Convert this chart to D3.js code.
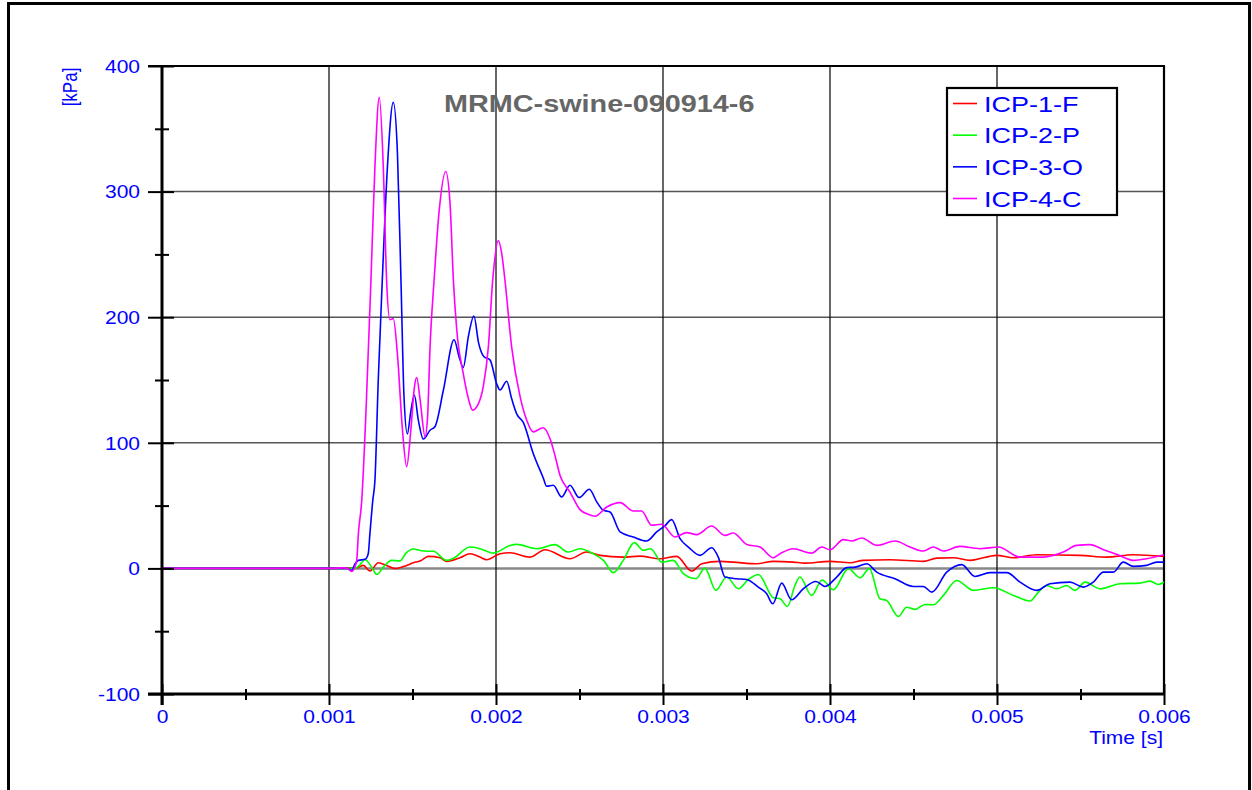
<!DOCTYPE html>
<html><head><meta charset="utf-8">
<script src="https://cdn.jsdelivr.net/npm/d3@7"></script>
<style>body{margin:0;background:#fff;} svg{display:block;font-family:"Liberation Sans",Arial,sans-serif;}</style>
</head><body><svg id="c" width="1252" height="790"></svg>
<script>
// ---- data (time in ms, pressure in kPa) ----
const chartTitle = "MRMC-swine-090914-6";
const seriesNames = ["ICP-1-F", "ICP-2-P", "ICP-3-O", "ICP-4-C"];
const xTickValues = [0, 1, 2, 3, 4, 5, 6];
const xTickLabels = ["0", "0.001", "0.002", "0.003", "0.004", "0.005", "0.006"];
const xMinorTicks = [0.5, 1.5, 2.5, 3.5, 4.5, 5.5];
const yTickValues = [-100, 0, 100, 200, 300, 400];
const yTickLabels = ["-100", "0", "100", "200", "300", "400"];
const yMinorTicks = [-50, 50, 150, 250, 350];
const xLabel = "Time [s]";
const yLabel = "[kPa]";

const icp1 = [[0,0],[1.0,0],[1.166,0.5],[1.206,2.4],[1.245,-2.1],[1.295,4.5],[1.345,2.4],[1.395,-0.2],[1.465,2.4],[1.505,4.5],[1.545,5.8],[1.595,9.6],[1.665,8.5],[1.705,5.6],[1.784,8.5],[1.844,11.7],[1.904,9],[1.944,6.9],[2.024,11.7],[2.084,12.5],[2.204,9],[2.293,14.9],[2.443,7.7],[2.543,13],[2.623,10.4],[2.762,9],[2.862,9.8],[2.982,7.7],[3.082,9.6],[3.172,-2.1],[3.232,3.7],[3.341,5.6],[3.421,5],[3.561,3.7],[3.661,5.6],[3.78,5],[3.85,4.2],[4.0,5.6],[4.12,4.5],[4.2,6.4],[4.359,6.9],[4.559,5.6],[4.639,8.2],[4.739,8.5],[4.838,6.4],[4.998,10.4],[5.098,8.5],[5.238,10.9],[5.497,10.4],[5.657,9],[5.816,10.9],[6.0,9.6]];

const icp2 = [[0,0],[1.0,0],[1.15,0],[1.176,1.6],[1.216,6.9],[1.256,1],[1.286,-4.8],[1.325,1],[1.375,6.4],[1.425,6],[1.46,12],[1.505,15.5],[1.565,13.8],[1.625,13.6],[1.705,6.4],[1.745,8],[1.844,17],[1.904,15.7],[1.984,12.2],[2.084,18.3],[2.124,19.1],[2.244,15.7],[2.353,18.9],[2.433,13],[2.503,15.7],[2.583,11.7],[2.643,6.4],[2.703,-3.4],[2.762,6.4],[2.828,20.5],[2.882,14.4],[2.926,15.7],[2.992,5],[3.062,6.4],[3.122,-4.2],[3.198,-8.2],[3.251,0.2],[3.317,-17.5],[3.381,-6.9],[3.451,-16.2],[3.511,-8.8],[3.571,-4.8],[3.661,-23.4],[3.701,-24.2],[3.745,-30.3],[3.79,-13.6],[3.82,-6.9],[3.89,-21.5],[3.953,-9.2],[4.02,-17],[4.11,-0.2],[4.18,-7.4],[4.236,-0.2],[4.299,-24.2],[4.339,-25.5],[4.409,-38.3],[4.459,-30.9],[4.509,-32.7],[4.569,-28.7],[4.619,-29],[4.679,-21.5],[4.759,-9.6],[4.858,-17.5],[4.978,-15.4],[5.098,-21.5],[5.198,-26],[5.248,-18.9],[5.297,-13.6],[5.357,-16.2],[5.417,-13.6],[5.467,-17.5],[5.527,-10.9],[5.617,-16.2],[5.737,-12.2],[5.856,-11.7],[5.916,-10.1],[5.966,-12.8],[6.0,-11]];

const icp3 = [[0,0],[1.0,0],[1.11,0],[1.136,-1.5],[1.156,3.7],[1.176,6.4],[1.216,7.2],[1.235,11.7],[1.245,27.7],[1.262,54],[1.275,70],[1.295,150],[1.319,229],[1.35,320],[1.385,371],[1.41,330],[1.431,229],[1.449,137],[1.469,107],[1.49,125],[1.511,138],[1.535,118],[1.565,103],[1.605,110],[1.635,113],[1.685,142],[1.749,182],[1.78,168],[1.804,160],[1.835,185],[1.868,201],[1.895,180],[1.928,168.5],[1.964,166],[2.004,147],[2.024,142],[2.064,149],[2.094,135],[2.124,123],[2.164,116],[2.223,91.5],[2.283,72],[2.303,65.4],[2.343,66.2],[2.393,56.9],[2.443,66.2],[2.497,56.4],[2.559,63],[2.603,53],[2.643,46.3],[2.683,44.9],[2.743,29],[2.822,25],[2.902,21.8],[2.962,29],[3.012,34],[3.052,38.8],[3.102,23.7],[3.152,17],[3.222,10.4],[3.291,16.5],[3.331,9],[3.371,-6.9],[3.441,-8.2],[3.501,-8.8],[3.571,-14.9],[3.621,-20.2],[3.657,-28.2],[3.711,-11.7],[3.77,-25],[3.84,-16.2],[3.916,-10.4],[3.97,-14.4],[4.04,-6.9],[4.1,0.6],[4.15,1],[4.22,3.7],[4.28,-3],[4.389,-8.2],[4.499,-14.4],[4.559,-14.4],[4.609,-18.9],[4.699,-3],[4.789,3],[4.868,-6.4],[4.958,-3.4],[5.058,-3.4],[5.138,-10.9],[5.238,-17.5],[5.317,-12.2],[5.437,-10.9],[5.517,-14.9],[5.577,-10.9],[5.637,-3],[5.697,-3],[5.756,5],[5.816,1.6],[5.896,2.4],[5.956,5],[6.0,5]];

const icp4 = [[0,0],[1.0,0],[1.086,0.4],[1.11,0],[1.136,-2.4],[1.156,1.5],[1.166,6.4],[1.176,27.7],[1.196,54],[1.22,120],[1.251,229],[1.275,320],[1.301,375],[1.325,320],[1.345,229],[1.365,198],[1.385,199],[1.41,170],[1.44,110],[1.465,81],[1.49,110],[1.512,145],[1.525,152],[1.545,135],[1.575,105],[1.59,120],[1.605,176],[1.629,229],[1.66,285],[1.699,316],[1.725,290],[1.745,229],[1.765,190],[1.804,155],[1.835,135],[1.86,126],[1.894,131],[1.924,145],[1.954,176],[1.98,229],[2.014,261],[2.035,250],[2.054,229],[2.094,176],[2.144,137],[2.184,118],[2.223,108.7],[2.283,112],[2.323,103.4],[2.353,90],[2.383,74.2],[2.443,60.8],[2.503,46.8],[2.553,43],[2.593,41.5],[2.663,48.9],[2.743,52.4],[2.822,45.7],[2.872,45.7],[2.932,34.3],[2.992,35.1],[3.072,25],[3.142,28.5],[3.202,26.9],[3.291,33.7],[3.371,26.3],[3.421,28.2],[3.501,19.1],[3.581,17],[3.661,8.5],[3.701,11.7],[3.78,15.7],[3.89,12.2],[3.95,17],[4.0,14.9],[4.08,22.9],[4.13,21.8],[4.19,24.2],[4.28,18.3],[4.389,21.8],[4.479,17],[4.559,13.8],[4.619,17],[4.679,13.8],[4.778,17.5],[4.898,15.7],[5.008,17],[5.138,9],[5.278,9],[5.397,13],[5.477,18.3],[5.557,18.9],[5.637,14.9],[5.717,11.2],[5.816,6.4],[5.896,7.7],[6.0,10.9]];

// ---- styling ----
const seriesColors = ["#ff0000", "#00ff00", "#0000ff", "#ff00ff"];
const SX = 1.2; // horizontal stretch of the original rendering
const textBlue = "#0000ff";

const svg = d3.select("#c");
const L = 162, R = 1164, T = 66, B = 694;
const x = d3.scaleLinear().domain([0, 6]).range([L, R]);
const y = d3.scaleLinear().domain([-100, 400]).range([B, T]);

// outer frame
svg.append("rect").attr("x", 8.5).attr("y", 3.5).attr("width", 1241).attr("height", 820)
  .attr("fill", "#fff").attr("stroke", "#000").attr("stroke-width", 3);

// grid
const grid = svg.append("g");
grid.selectAll(".hg").data(yTickValues.filter(v => v > -100 && v < 400)).enter().append("line")
  .attr("x1", L).attr("x2", R).attr("y1", d => y(d)).attr("y2", d => y(d))
  .attr("stroke", d => d === 0 ? "#888" : "#555").attr("stroke-width", d => d === 0 ? 2.5 : 1.5);
grid.selectAll(".vg").data(xTickValues.filter(v => v > 0 && v < 6)).enter().append("line")
  .attr("x1", d => x(d)).attr("x2", d => x(d)).attr("y1", T).attr("y2", B)
  .attr("stroke", "#000").attr("stroke-width", 1.2);

// plot frame top & right
svg.append("line").attr("x1", L - 14).attr("x2", R + 1).attr("y1", T).attr("y2", T).attr("stroke", "#000").attr("stroke-width", 2.2);
svg.append("line").attr("x1", R).attr("x2", R).attr("y1", T).attr("y2", B).attr("stroke", "#000").attr("stroke-width", 2.2);

// series
const clip = svg.append("clipPath").attr("id", "pc").append("rect")
  .attr("x", L).attr("y", T).attr("width", R - L).attr("height", B - T);
const line = d3.line().x(d => x(d[0])).y(d => y(d[1])).curve(d3.curveMonotoneX);
const allSeries = [icp1, icp2, icp3, icp4];
svg.append("g").attr("clip-path", "url(#pc)").selectAll("path").data(allSeries).enter().append("path")
  .attr("d", line).attr("fill", "none")
  .attr("stroke", (d, i) => seriesColors[i]).attr("stroke-width", 1.6).attr("stroke-linejoin", "round");

// axes
const fs = 17.5;
const yAxis = svg.append("g").attr("transform", `translate(${L},0)`)
  .call(d3.axisLeft(y).tickValues(yTickValues).tickFormat((d, i) => yTickLabels[i]).tickSize(14).tickPadding(0));
yAxis.select(".domain").remove();
yAxis.selectAll(".tick line").attr("x1", 12).attr("x2", -14).attr("stroke", "#000").attr("stroke-width", 2);
yAxis.selectAll(".tick text").attr("x", -22 / SX).attr("dy", "0.36em").attr("transform", `scale(${SX},1)`)
  .attr("fill", textBlue).style("font-size", fs + "px").style("font-family", '"Liberation Sans", Arial, sans-serif');
const yMinor = svg.append("g").attr("transform", `translate(${L},0)`)
  .call(d3.axisLeft(y).tickValues(yMinorTicks).tickFormat("").tickSize(7));
yMinor.select(".domain").remove();
yMinor.selectAll(".tick line").attr("x1", 7).attr("x2", -7).attr("stroke", "#000").attr("stroke-width", 2);

const xAxis = svg.append("g").attr("transform", `translate(0,${B})`)
  .call(d3.axisBottom(x).tickValues(xTickValues).tickFormat((d, i) => xTickLabels[i]).tickSize(11).tickPadding(0));
xAxis.select(".domain").remove();
xAxis.selectAll(".tick line").attr("y1", -10).attr("y2", 11).attr("stroke", "#000").attr("stroke-width", 2);
xAxis.selectAll(".tick text").attr("y", 29).attr("dy", 0).attr("transform", `scale(${SX},1)`)
  .attr("fill", textBlue).style("font-size", fs + "px").style("font-family", '"Liberation Sans", Arial, sans-serif');
const xMinor = svg.append("g").attr("transform", `translate(0,${B})`)
  .call(d3.axisBottom(x).tickValues(xMinorTicks).tickFormat("").tickSize(6));
xMinor.select(".domain").remove();
xMinor.selectAll(".tick line").attr("y1", -5).attr("y2", 6).attr("stroke", "#000").attr("stroke-width", 2);

// axis lines (thick)
svg.append("line").attr("x1", L).attr("x2", L).attr("y1", T - 1).attr("y2", B + 11).attr("stroke", "#000").attr("stroke-width", 3);
svg.append("line").attr("x1", L - 14).attr("x2", R + 1).attr("y1", B).attr("y2", B).attr("stroke", "#000").attr("stroke-width", 3);

// fix x tick text positions (scale applied to x too): translate handled by tick group, x=0 ok

// axis titles
svg.append("text").text(xLabel).attr("text-anchor", "end")
  .attr("transform", `translate(1163,744) scale(${SX},1)`)
  .attr("fill", textBlue).style("font-size", fs + "px");
svg.append("text").text(yLabel).attr("text-anchor", "middle")
  .attr("transform", `translate(77,87) scale(${SX},1) rotate(-90)`)
  .attr("fill", textBlue).style("font-size", "17px");

// title
svg.append("text").text(chartTitle).attr("text-anchor", "start")
  .attr("transform", `translate(444,112) scale(${SX},1)`)
  .attr("fill", "#666").style("font-size", "24px").style("font-weight", "bold");

// legend
const lg = svg.append("g");
lg.append("rect").attr("x", 947).attr("y", 88).attr("width", 170).attr("height", 127)
  .attr("fill", "#fff").attr("stroke", "#000").attr("stroke-width", 2.2);
const rowY = d3.scaleLinear().domain([0, 3]).range([103.5, 198.5]);
const rows = lg.selectAll(".row").data(seriesNames).enter().append("g");
rows.append("line").attr("x1", 953).attr("x2", 977).attr("y1", (d, i) => rowY(i)).attr("y2", (d, i) => rowY(i))
  .attr("stroke", (d, i) => seriesColors[i]).attr("stroke-width", 1.6);
rows.append("text").text(d => d)
  .attr("transform", (d, i) => `translate(984,${rowY(i) + 8}) scale(${SX},1)`)
  .attr("fill", textBlue).style("font-size", "22.5px");
</script>
</body></html>
